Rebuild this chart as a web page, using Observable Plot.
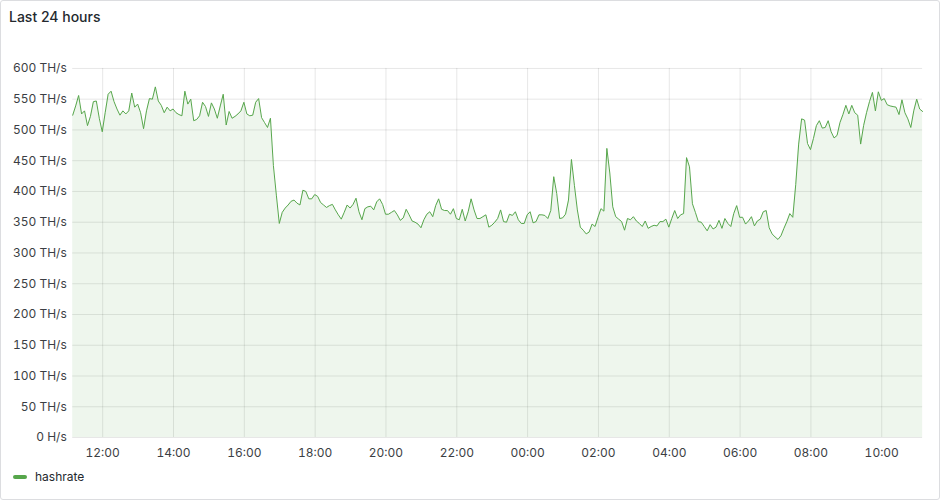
<!DOCTYPE html>
<html>
<head>
<meta charset="utf-8">
<script src="https://cdn.jsdelivr.net/npm/d3@7"></script>
<script src="https://cdn.jsdelivr.net/npm/@observablehq/plot@0.6"></script>
<style>
  html, body { margin: 0; padding: 0; background: #fff; }
  #panel {
    position: relative; box-sizing: border-box; width: 940px; height: 500px;
    border: 1px solid #dcdde0; border-radius: 3px; background: #fff; overflow: hidden;
    font-family: Inter, "Noto Sans", sans-serif;
  }
  #title {
    position: absolute; left: 8px; top: 7px; font-size: 14px; font-weight: 500;
    color: #24292e; line-height: 18px;
  }
  #chart { position: absolute; left: -1px; top: -1px; }
  #legend {
    position: absolute; left: 12px; top: 468px; display: flex; align-items: center;
    font-size: 12px; color: #24292e; line-height: 16px;
  }
  #legend .sw { width: 14px; height: 4px; border-radius: 2px; background: #56A64B; margin-right: 8px; }
</style>
</head>
<body>
<div id="panel">
  <div id="title"></div>
  <div id="chart"></div>
  <div id="legend"></div>
</div>
<script>
const titleText = "Last 24 hours";
const seriesName = "hashrate";
// sampling: start at 11:09 (hours since midnight of day 1), one sample every 5 minutes
const startHour = 11 + 9.25 / 60;
const stepMinutes = 5;
// hashrate in TH/s
const hashrate = [
  524,539,556,526,531,507,522,546,547,519,497,528,558,563,546,534,524,531,526,531,
  560,537,542,528,502,531,551,550,570,547,540,528,537,531,534,528,525,523,563,542,
  550,515,517,523,545,538,522,544,534,519,539,558,508,530,519,522,526,531,545,526,
  523,524,545,551,520,512,504,519,442,394,348,366,373,378,384,386,381,378,402,400,
  388,388,395,392,382,378,374,377,379,370,362,355,366,378,373,379,389,367,354,372,
  375,376,370,383,388,379,363,363,366,369,362,353,357,371,362,352,350,347,341,354,
  363,367,359,377,388,371,369,369,363,372,356,354,371,352,367,388,370,356,356,359,
  362,342,345,350,356,370,351,350,363,361,367,354,348,348,362,367,349,351,362,362,
  361,356,369,424,397,356,357,363,386,452,410,370,342,337,331,334,347,343,358,372,
  368,470,430,375,359,355,351,337,356,354,359,352,348,343,352,340,343,345,344,351,
  351,355,342,356,369,356,362,364,455,440,380,366,351,350,343,336,346,339,342,353,
  340,356,348,343,364,377,358,358,347,352,359,344,352,355,367,369,341,331,326,322,
  328,340,351,364,358,411,477,518,516,478,468,486,507,515,503,504,515,497,487,491,
  512,525,540,526,540,528,524,477,507,528,546,561,531,562,548,551,541,539,538,537,
  525,549,528,518,504,531,550,534,530
];
// axis ticks
const xTickHours = [12, 14, 16, 18, 20, 22, 24, 26, 28, 30, 32, 34];
const xTickLabels = ["12:00","14:00","16:00","18:00","20:00","22:00","00:00","02:00","04:00","06:00","08:00","10:00"];
const yTicks = [0, 50, 100, 150, 200, 250, 300, 350, 400, 450, 500, 550, 600];
const yTickLabels = ["0 H/s","50 TH/s","100 TH/s","150 TH/s","200 TH/s","250 TH/s","300 TH/s","350 TH/s","400 TH/s","450 TH/s","500 TH/s","550 TH/s","600 TH/s"];

const color = "#56A64B";
const data = hashrate.map((v, i) => ({ t: startHour + i * stepMinutes / 60, v }));

document.getElementById("title").textContent = titleText;
document.getElementById("legend").innerHTML = '<div class="sw"></div><span></span>';
document.querySelector("#legend span").textContent = seriesName;

const plot = Plot.plot({
  width: 940,
  height: 466,
  marginTop: 68,
  marginBottom: 28.5,
  marginLeft: 72.3,
  marginRight: 16.9,
  style: { fontFamily: "Inter, 'Noto Sans', sans-serif", fontSize: "12px", color: "#3b3e43", background: "transparent" },
  x: { type: "linear", domain: [data[0].t, data[data.length - 1].t] },
  y: { domain: [0, 600] },
  marks: [
    Plot.gridY(yTicks, { stroke: "#000", strokeOpacity: 0.1 }),
    Plot.gridX(xTickHours, { stroke: "#000", strokeOpacity: 0.1 }),
    Plot.areaY(data, { x: "t", y: "v", fill: color, fillOpacity: 0.1 }),
    Plot.lineY(data, { x: "t", y: "v", stroke: color, strokeWidth: 1 }),
    Plot.axisY(yTicks, {
      tickSize: 0, tickPadding: 6, fontSize: 12, label: null,
      tickFormat: d => yTickLabels[yTicks.indexOf(d)]
    }),
    Plot.axisX(xTickHours, {
      tickSize: 0, tickPadding: 11, fontSize: 12, label: null,
      tickFormat: d => xTickLabels[xTickHours.indexOf(d)]
    })
  ]
});
document.getElementById("chart").appendChild(plot);
</script>
</body>
</html>
